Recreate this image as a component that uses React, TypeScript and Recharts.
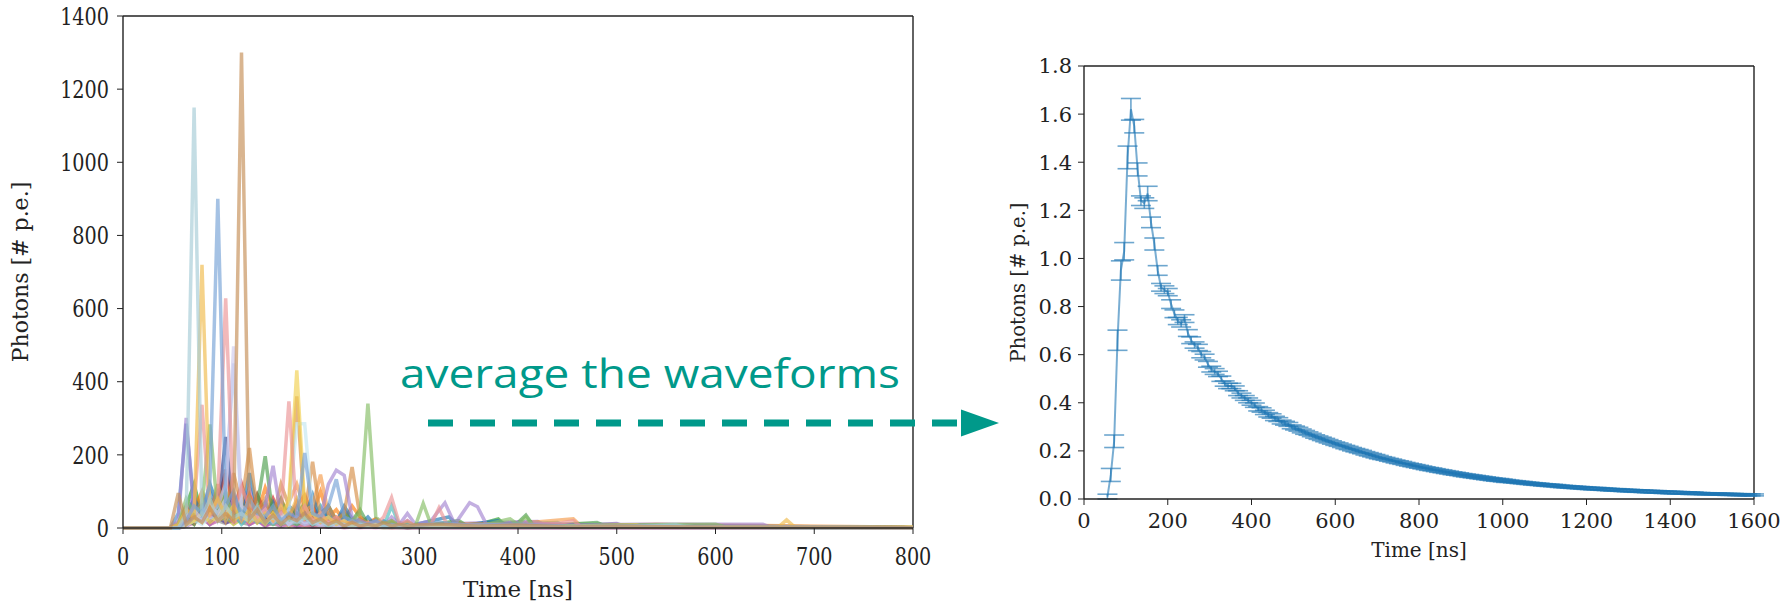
import React from "react";
import { LineChart, Line, XAxis, YAxis, ErrorBar, ReferenceLine } from "recharts";

// ---- left panel: single waveforms ----
// sampled bins of 8 ns starting at 48 ns, then a sparse tail as [t, photons]
const WAVE_T0 = 48;
const WAVE_STEP = 8;

const waveTan = [0, 95, 10, 30, 15, 55, 20, 40, 20, 1300, 25, 50, 15, 35, 10, 30, 20, 40, 15, 25, 10, 20, 5, 15, 5, 10, 5, 15, 5, 10, 5, 8];
const tailTan: [number, number][] = [[320, 10], [360, 5], [400, 8], [450, 3], [500, 5], [600, 2], [800, 1]];

const waveLightBlue = [0, 0, 40, 1150, 30, 80, 20, 60, 30, 40, 20, 60, 15, 30, 10, 25, 15, 30, 10, 20, 5, 15, 10, 5, 10, 5, 8, 4, 6, 3, 5, 3];
const tailLightBlue: [number, number][] = [[330, 5], [400, 3], [500, 2], [560, 8], [570, 2], [800, 1]];

const waveSteel = [0, 0, 20, 60, 40, 120, 900, 60, 100, 30, 80, 40, 30, 60, 20, 40, 25, 205, 40, 30, 60, 133, 30, 20, 15, 10, 20, 5, 10, 5, 8, 4];
const tailSteel: [number, number][] = [[320, 15], [350, 8], [400, 10], [450, 5], [520, 6], [600, 3], [800, 1]];

const waveGold = [0, 10, 50, 30, 720, 40, 80, 30, 60, 20, 50, 15, 40, 20, 60, 30, 80, 25, 40, 15, 30, 10, 20, 5, 15, 5, 10, 3, 8, 4, 6, 3];
const tailGold: [number, number][] = [[340, 6], [400, 4], [500, 3], [664, 3], [672, 22], [680, 3], [800, 2]];

const wavePink = [0, 5, 20, 60, 337, 30, 80, 628, 40, 110, 60, 30, 50, 20, 40, 346, 30, 60, 20, 40, 15, 30, 10, 20, 5, 15, 10, 30, 83, 10, 20, 5];
const tailPink: [number, number][] = [[312, 10], [320, 55], [328, 10], [400, 8], [440, 12], [456, 20], [464, 4], [600, 3], [800, 1]];

const waveLavender = [0, 0, 30, 50, 20, 60, 40, 80, 497, 60, 40, 30, 50, 20, 40, 10, 30, 15, 20, 10, 15, 5, 10, 5, 8, 4, 6, 3, 5, 2, 4, 2];
const tailLavender: [number, number][] = [[360, 5], [400, 3], [800, 1]];

const waveSky = [0, 0, 10, 30, 20, 40, 60, 120, 450, 40, 30, 20, 40, 15, 30, 10, 20, 10, 15, 5, 10, 3, 8, 2, 5, 2, 4, 1, 3, 1, 2, 1];
const tailSky: [number, number][] = [[800, 1]];

const waveYellow = [0, 0, 10, 20, 40, 15, 30, 60, 20, 40, 15, 30, 10, 40, 20, 80, 431, 60, 20, 40, 10, 20, 5, 15, 5, 10, 3, 8, 3, 5, 2, 4];
const tailYellow: [number, number][] = [[340, 4], [400, 3], [520, 8], [530, 2], [800, 1]];

const waveGreen = [0, 10, 80, 40, 60, 283, 40, 90, 30, 60, 20, 40, 15, 30, 10, 20, 10, 30, 10, 20, 5, 15, 10, 20, 40, 340, 30, 10, 20, 5, 15, 5];
const tailGreen: [number, number][] = [[304, 67], [312, 8], [360, 5], [392, 25], [400, 10], [408, 30], [416, 5], [500, 8], [600, 10], [610, 3], [800, 2]];

const waveCyan = [0, 0, 5, 20, 10, 30, 20, 40, 60, 30, 20, 40, 15, 30, 20, 50, 285, 285, 40, 20, 30, 10, 20, 5, 10, 5, 8, 3, 6, 2, 4, 2];
const tailCyan: [number, number][] = [[500, 4], [560, 10], [580, 3], [800, 1]];

const wavePurple = [0, 20, 301, 40, 60, 20, 50, 30, 80, 20, 40, 20, 60, 170, 30, 50, 20, 40, 15, 30, 120, 158, 144, 30, 20, 10, 20, 5, 30, 10, 40, 10];
const tailPurple: [number, number][] = [[312, 20], [326, 69], [336, 10], [351, 69], [359, 58], [368, 10], [400, 15], [440, 10], [460, 8], [520, 10], [648, 10], [656, 2], [800, 1]];

const waveBrown = [0, 15, 60, 20, 80, 30, 120, 40, 150, 60, 219, 40, 80, 30, 120, 60, 360, 40, 181, 30, 60, 20, 40, 167, 30, 10, 20, 5, 15, 5, 10, 3];
const tailBrown: [number, number][] = [[330, 8], [400, 5], [800, 1]];

const waveBlue = [0, 40, 285, 60, 30, 100, 40, 70, 30, 50, 20, 40, 10, 30, 15, 20, 10, 30, 15, 20, 60, 15, 30, 5, 15, 5, 10, 3, 8, 2, 5, 2];
const tailBlue: [number, number][] = [[400, 5], [480, 8], [800, 1]];

const waveNavy = [0, 0, 10, 30, 60, 20, 40, 249, 30, 60, 20, 50, 15, 30, 10, 40, 15, 30, 10, 20, 5, 15, 5, 10, 3, 8, 3, 5, 2, 4, 2, 3];
const tailNavy: [number, number][] = [[400, 3], [800, 1]];

const waveGreenDark = [0, 5, 30, 10, 50, 20, 60, 30, 80, 40, 20, 60, 196, 30, 80, 20, 60, 30, 40, 20, 30, 10, 40, 20, 50, 10, 20, 5, 15, 5, 10, 3];
const tailGreenDark: [number, number][] = [[340, 20], [350, 3], [400, 15], [408, 35], [416, 5], [480, 15], [490, 3], [800, 1]];

const waveOrange = [0, 5, 40, 20, 60, 30, 90, 20, 70, 30, 80, 40, 60, 20, 40, 70, 120, 50, 60, 146, 40, 30, 20, 10, 20, 10, 15, 5, 20, 5, 10, 5];
const tailOrange: [number, number][] = [[320, 10], [400, 12], [456, 25], [464, 5], [540, 10], [800, 2]];

const waveRed = [0, 0, 20, 10, 50, 20, 40, 160, 30, 60, 20, 90, 40, 20, 50, 15, 70, 20, 30, 10, 20, 5, 15, 5, 10, 3, 8, 3, 5, 2, 4, 2];
const tailRed: [number, number][] = [[420, 10], [800, 1]];

const waveTeal = [0, 0, 15, 40, 20, 30, 60, 20, 40, 10, 30, 15, 20, 10, 25, 10, 20, 30, 10, 15, 5, 20, 5, 10, 3, 8, 3, 5, 60, 5, 3, 2];
const tailTeal: [number, number][] = [[440, 15], [450, 3], [800, 1]];

const waveBlue2 = [0, 0, 30, 80, 40, 120, 60, 30, 90, 40, 150, 50, 30, 70, 20, 60, 40, 30, 90, 20, 40, 15, 60, 25, 10, 30, 5, 20, 8, 15, 5, 10];
const tailBlue2: [number, number][] = [[330, 30], [340, 5], [380, 20], [390, 4], [430, 12], [440, 3], [800, 1]];

const waveOrange2 = [0, 0, 20, 50, 100, 40, 70, 150, 60, 30, 90, 40, 110, 50, 80, 30, 60, 90, 40, 100, 30, 50, 20, 60, 30, 15, 25, 10, 20, 5, 15, 5];
const tailOrange2: [number, number][] = [[340, 15], [352, 4], [420, 10], [520, 6], [800, 1]];

const waveGreen3 = [0, 5, 60, 120, 30, 80, 50, 100, 40, 70, 30, 90, 40, 60, 20, 50, 30, 70, 20, 40, 60, 20, 30, 10, 25, 8, 15, 5, 10, 4, 8, 3];
const tailGreen3: [number, number][] = [[360, 10], [380, 25], [388, 5], [460, 10], [800, 1]];

const waveRed2 = [0, 0, 15, 40, 20, 70, 30, 90, 50, 120, 40, 60, 20, 80, 30, 50, 20, 40, 60, 20, 30, 10, 25, 8, 15, 5, 12, 4, 8, 3, 6, 2];
const tailRed2: [number, number][] = [[400, 8], [800, 1]];

const wavePurple2 = [0, 10, 40, 90, 30, 60, 100, 40, 70, 30, 110, 40, 60, 20, 50, 30, 70, 20, 40, 15, 30, 10, 50, 15, 10, 5, 25, 5, 10, 3, 20, 3];
const tailPurple2: [number, number][] = [[344, 12], [420, 18], [430, 3], [500, 12], [510, 2], [800, 1]];

const waveCyan2 = [0, 0, 20, 30, 60, 20, 50, 80, 30, 60, 20, 40, 70, 30, 50, 20, 40, 15, 30, 60, 20, 10, 30, 5, 15, 5, 10, 3, 8, 3, 5, 2];
const tailCyan2: [number, number][] = [[380, 15], [390, 3], [800, 1]];

const wavePink2 = [0, 0, 10, 30, 50, 80, 30, 60, 20, 40, 90, 30, 50, 20, 40, 15, 30, 10, 20, 8, 15, 5, 10, 3, 8, 3, 5, 2, 4, 2, 3, 1];
const waveBrown2 = [0, 0, 10, 40, 60, 20, 50, 30, 80, 20, 40, 60, 20, 40, 15, 30, 10, 25, 8, 20, 5, 15, 4, 10, 3, 8, 2, 5, 2, 4, 1, 3];
const waveIndigo = [0, 0, 5, 20, 40, 10, 30, 15, 20, 50, 10, 25, 5, 20, 10, 15, 5, 10, 5, 8, 3, 6, 2, 5, 2, 4, 2, 3, 2, 2, 1, 2];
const waveOlive = [0, 0, 10, 30, 15, 40, 20, 30, 10, 25, 50, 15, 30, 10, 20, 5, 15, 5, 10, 3, 8, 2, 6, 2, 4, 2, 3, 1, 2, 1, 2, 1];
const waveMagenta = [0, 0, 5, 15, 30, 10, 20, 40, 15, 30, 10, 20, 5, 15, 5, 10, 3, 8, 2, 5, 2, 4, 1, 3, 1, 2, 1, 2, 1, 1, 1, 1];
const waveGray = [0, 0, 8, 15, 25, 10, 20, 12, 30, 15, 10, 20, 8, 12, 5, 10, 6, 8, 4, 6, 3, 5, 2, 4, 2, 3, 2, 2, 1, 2, 1, 1];
const tailFlat: [number, number][] = [[800, 1]];

const WAVES = [
  { id: "gray", color: "#8a8a8a", head: waveGray, tail: tailFlat },
  { id: "indigo", color: "#5b3f96", head: waveIndigo, tail: tailFlat },
  { id: "olive", color: "#bcbd22", head: waveOlive, tail: tailFlat },
  { id: "magenta", color: "#e377c2", head: waveMagenta, tail: tailFlat },
  { id: "pink2", color: "#e377c2", head: wavePink2, tail: tailFlat },
  { id: "brown2", color: "#8c564b", head: waveBrown2, tail: tailFlat },
  { id: "cyan2", color: "#17becf", head: waveCyan2, tail: tailCyan2 },
  { id: "purple2", color: "#9467bd", head: wavePurple2, tail: tailPurple2 },
  { id: "red2", color: "#d62728", head: waveRed2, tail: tailRed2 },
  { id: "green3", color: "#2ca02c", head: waveGreen3, tail: tailGreen3 },
  { id: "orange2", color: "#ff7f0e", head: waveOrange2, tail: tailOrange2 },
  { id: "blue2", color: "#1f77b4", head: waveBlue2, tail: tailBlue2 },
  { id: "teal", color: "#4cbcbc", head: waveTeal, tail: tailTeal },
  { id: "red", color: "#cf4a4c", head: waveRed, tail: tailRed },
  { id: "orange", color: "#f59c4e", head: waveOrange, tail: tailOrange },
  { id: "greenDark", color: "#4f9f4f", head: waveGreenDark, tail: tailGreenDark },
  { id: "navy", color: "#2e3f8a", head: waveNavy, tail: tailNavy },
  { id: "blue", color: "#4a88c6", head: waveBlue, tail: tailBlue },
  { id: "brown", color: "#d68f48", head: waveBrown, tail: tailBrown },
  { id: "purple", color: "#a486d2", head: wavePurple, tail: tailPurple },
  { id: "cyan", color: "#c4e6f2", head: waveCyan, tail: tailCyan },
  { id: "green", color: "#86bd66", head: waveGreen, tail: tailGreen },
  { id: "yellow", color: "#f2d050", head: waveYellow, tail: tailYellow },
  { id: "sky", color: "#b3c6ea", head: waveSky, tail: tailSky },
  { id: "lavender", color: "#cfcbee", head: waveLavender, tail: tailLavender },
  { id: "pink", color: "#ec9496", head: wavePink, tail: tailPink },
  { id: "gold", color: "#f0bb4c", head: waveGold, tail: tailGold },
  { id: "steel", color: "#76a2d6", head: waveSteel, tail: tailSteel },
  { id: "lightBlue", color: "#a6cbd6", head: waveLightBlue, tail: tailLightBlue },
  { id: "tan", color: "#c58f56", head: waveTan, tail: tailTan },
];

const LEFT_X_TICKS = [0, 100, 200, 300, 400, 500, 600, 700, 800];
const LEFT_Y_TICKS = [0, 200, 400, 600, 800, 1000, 1200, 1400];

// ---- right panel: averaged waveform, 8 ns bins from 56 ns ----
const AVG_T0 = 56;
const AVG_STEP = 8;

const avgPhotons = [
  0.01, 0.1, 0.24, 0.66, 0.95, 1.03, 1.42, 1.62, 1.55, 1.37, 1.24, 1.23, 1.27, 1.15, 1.06, 0.95,
  0.88, 0.87, 0.86, 0.81, 0.77, 0.74, 0.73, 0.75, 0.69, 0.66, 0.64, 0.63, 0.6, 0.59, 0.56, 0.54,
  0.53, 0.52, 0.5, 0.48, 0.47, 0.47, 0.46, 0.44, 0.43, 0.42, 0.41, 0.4, 0.39, 0.375, 0.37, 0.36,
  0.35, 0.345, 0.335, 0.33, 0.32, 0.315, 0.31, 0.3, 0.295, 0.29, 0.283, 0.277, 0.272, 0.266, 0.26, 0.255,
  0.25, 0.245, 0.24, 0.235, 0.23, 0.226, 0.221, 0.216, 0.212, 0.207, 0.203, 0.199, 0.195, 0.19, 0.186, 0.182,
  0.178, 0.174, 0.17, 0.167, 0.163, 0.16, 0.156, 0.153, 0.15, 0.146, 0.143, 0.14, 0.137, 0.134, 0.131, 0.128,
  0.125, 0.123, 0.12, 0.117, 0.115, 0.112, 0.11, 0.107, 0.105, 0.103, 0.1, 0.098, 0.096, 0.094, 0.092, 0.09,
  0.088, 0.086, 0.084, 0.082, 0.08, 0.079, 0.077, 0.075, 0.074, 0.072, 0.071, 0.069, 0.068, 0.066, 0.065, 0.063,
  0.062, 0.061, 0.059, 0.058, 0.057, 0.056, 0.055, 0.053, 0.052, 0.051, 0.05, 0.049, 0.048, 0.047, 0.046, 0.045,
  0.044, 0.043, 0.043, 0.042, 0.041, 0.04, 0.039, 0.038, 0.038, 0.037, 0.036, 0.035, 0.035, 0.034, 0.033, 0.033,
  0.032, 0.031, 0.031, 0.03, 0.03, 0.029, 0.028, 0.028, 0.027, 0.027, 0.026, 0.026, 0.025, 0.025, 0.024, 0.024,
  0.023, 0.023, 0.022, 0.022, 0.021, 0.021, 0.021, 0.02, 0.02, 0.019, 0.019, 0.019, 0.018, 0.018, 0.018, 0.017,
  0.017, 0.017,
];

const avgErrors = [
  0.01, 0.027, 0.026, 0.042, 0.04, 0.036, 0.047, 0.045, 0.028, 0.027, 0.02, 0.022, 0.03, 0.022, 0.025, 0.02,
  0.016, 0.016, 0.015, 0.018, 0.016, 0.015, 0.015, 0.016, 0.014, 0.014, 0.013, 0.013, 0.013, 0.012, 0.012, 0.012,
  0.012, 0.011, 0.011, 0.011, 0.011, 0.011, 0.01, 0.01, 0.01, 0.01, 0.01, 0.01, 0.009, 0.009, 0.009, 0.009,
  0.009, 0.009, 0.009, 0.008, 0.008, 0.008, 0.008, 0.008, 0.008, 0.008, 0.008, 0.008, 0.007, 0.007, 0.007, 0.007,
  0.007, 0.007, 0.007, 0.007, 0.007, 0.007, 0.007, 0.007, 0.007, 0.007, 0.007, 0.007, 0.007, 0.007, 0.007, 0.007,
  0.007, 0.007, 0.006, 0.006, 0.006, 0.006, 0.006, 0.006, 0.006, 0.006, 0.006, 0.006, 0.006, 0.006, 0.006, 0.006,
  0.006, 0.006, 0.006, 0.006, 0.006, 0.006, 0.006, 0.006, 0.006, 0.006, 0.006, 0.006, 0.006, 0.006, 0.006, 0.006,
  0.006, 0.006, 0.006, 0.006, 0.006, 0.006, 0.006, 0.006, 0.005, 0.005, 0.005, 0.005, 0.005, 0.005, 0.005, 0.005,
  0.005, 0.005, 0.005, 0.005, 0.005, 0.005, 0.005, 0.005, 0.005, 0.005, 0.005, 0.005, 0.005, 0.005, 0.005, 0.005,
  0.005, 0.005, 0.005, 0.005, 0.005, 0.005, 0.005, 0.005, 0.005, 0.005, 0.005, 0.005, 0.005, 0.005, 0.005, 0.005,
  0.005, 0.005, 0.005, 0.005, 0.005, 0.005, 0.005, 0.005, 0.005, 0.005, 0.005, 0.005, 0.005, 0.005, 0.005, 0.005,
  0.004, 0.004, 0.004, 0.004, 0.004, 0.004, 0.004, 0.004, 0.004, 0.004, 0.004, 0.004, 0.004, 0.004, 0.004, 0.004,
  0.004, 0.004,
];

const RIGHT_X_TICKS = [0, 200, 400, 600, 800, 1000, 1200, 1400, 1600];
const RIGHT_Y_TICKS = [0, 0.2, 0.4, 0.6, 0.8, 1.0, 1.2, 1.4, 1.6, 1.8];

const TEAL = "#00998a";
const INK = "#222";
const AXIS_FONT = "DejaVu Serif";

function toPoints(head: number[], tail: [number, number][]) {
  return [
    { t: 0, v: 0 },
    ...head.map((v, i) => ({ t: WAVE_T0 + i * WAVE_STEP, v })),
    ...tail.map(([t, v]) => ({ t, v })),
  ];
}

const avgData = avgPhotons.map((v, i) => ({ t: AVG_T0 + i * AVG_STEP, v, err: avgErrors[i] }));

// the left panel's digits are narrow, so squeeze them horizontally
const NarrowTick = (props: any) => {
  const { x, y, payload, axis, size, squeeze } = props;
  return (
    <text
      transform={`translate(${x},${y}) scale(${squeeze},1)`}
      textAnchor={axis === "x" ? "middle" : "end"}
      dy={axis === "x" ? "0.75em" : "0.36em"}
      fontFamily={AXIS_FONT}
      fontSize={size}
      fill={INK}
    >
      {String(payload.value)}
    </text>
  );
};

function WaveformsPanel() {
  return (
    <LineChart width={960} height={602} margin={{ top: 16, right: 47, bottom: 0, left: 0 }}>
      <XAxis
        dataKey="t"
        type="number"
        domain={[0, 800]}
        ticks={LEFT_X_TICKS}
        allowDataOverflow
        height={74}
        tickSize={6}
        tickMargin={13}
        tick={<NarrowTick axis="x" size={24} squeeze={0.8} />}
        stroke={INK}
        axisLine={{ stroke: INK, strokeWidth: 1.4 }}
        label={{ value: "Time [ns]", position: "center", dy: 24, fontFamily: AXIS_FONT, fontSize: 23, fill: INK }}
      />
      <YAxis
        type="number"
        domain={[0, 1400]}
        ticks={LEFT_Y_TICKS}
        width={123}
        tickSize={6}
        tickMargin={8}
        tick={<NarrowTick axis="y" size={24} squeeze={0.8} />}
        stroke={INK}
        axisLine={{ stroke: INK, strokeWidth: 1.4 }}
        label={{ value: "Photons [# p.e.]", angle: -90, position: "center", dx: -41, fontFamily: AXIS_FONT, fontSize: 22, fill: INK }}
      />
      <ReferenceLine y={1400} stroke={INK} strokeWidth={1.4} />
      <ReferenceLine x={800} stroke={INK} strokeWidth={1.4} />
      {WAVES.map((w) => (
        <Line
          key={w.id}
          data={toPoints(w.head, w.tail)}
          dataKey="v"
          type="linear"
          stroke={w.color}
          strokeOpacity={0.66}
          strokeWidth={3.5}
          dot={false}
          isAnimationActive={false}
        />
      ))}
    </LineChart>
  );
}

function AveragePanel() {
  const tick = { fontFamily: AXIS_FONT, fontSize: 21, fill: INK };
  return (
    <LineChart width={809} height={602} data={avgData} margin={{ top: 66, right: 35, bottom: 0, left: 0 }}>
      <XAxis
        dataKey="t"
        type="number"
        domain={[0, 1600]}
        ticks={RIGHT_X_TICKS}
        allowDataOverflow
        height={103}
        tickSize={6}
        tickMargin={8}
        tick={tick}
        stroke={INK}
        axisLine={{ stroke: INK, strokeWidth: 1.4 }}
        label={{ value: "Time [ns]", position: "center", dy: -1, fontFamily: AXIS_FONT, fontSize: 20, fill: INK }}
      />
      <YAxis
        type="number"
        domain={[0, 1.8]}
        ticks={RIGHT_Y_TICKS}
        tickFormatter={(v: number) => v.toFixed(1)}
        width={104}
        tickSize={6}
        tickMargin={6}
        tick={tick}
        stroke={INK}
        axisLine={{ stroke: INK, strokeWidth: 1.4 }}
        label={{ value: "Photons [# p.e.]", angle: -90, position: "center", dx: -14, fontFamily: AXIS_FONT, fontSize: 19.5, fill: INK }}
      />
      <ReferenceLine y={1.8} stroke={INK} strokeWidth={1.4} />
      <ReferenceLine x={1600} stroke={INK} strokeWidth={1.4} />
      <Line
        dataKey="v"
        type="linear"
        stroke="#1f77b4"
        strokeOpacity={0.6}
        strokeWidth={2}
        dot={false}
        isAnimationActive={false}
      >
        <ErrorBar dataKey="err" direction="y" width={10} strokeWidth={1.6} stroke="rgba(31,119,180,0.65)" />
      </Line>
    </LineChart>
  );
}

export default function App() {
  return (
    <div style={{ position: "absolute", left: 0, top: 0, width: 1789, height: 602, background: "#fff" }}>
      <div style={{ position: "absolute", left: 0, top: 0 }}>
        <WaveformsPanel />
      </div>
      <div style={{ position: "absolute", left: 980, top: 0 }}>
        <AveragePanel />
      </div>
      <svg width={1789} height={602} style={{ position: "absolute", left: 0, top: 0, pointerEvents: "none" }}>
        <text
          x={400}
          y={388}
          fontFamily="Open Sans"
          fontSize={41}
          fill={TEAL}
          textLength={500}
          lengthAdjust="spacingAndGlyphs"
        >
          average the waveforms
        </text>
        <line x1={428} y1={423} x2={958} y2={423} stroke={TEAL} strokeWidth={7} strokeDasharray="25 17" />
        <polygon points="961,409.5 999,423 961,436.5" fill={TEAL} />
      </svg>
    </div>
  );
}
